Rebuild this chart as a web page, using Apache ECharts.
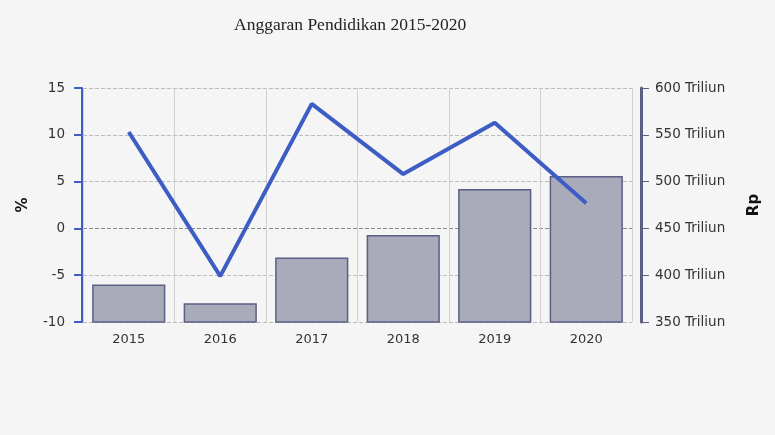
<!DOCTYPE html>
<html>
<head>
<meta charset="utf-8">
<title>Anggaran Pendidikan 2015-2020</title>
<script src="https://cdn.jsdelivr.net/npm/echarts@6/dist/echarts.min.js"></script>
<style>
  html, body { margin: 0; padding: 0; background: #f5f5f5; }
  #chart { width: 775px; height: 435px; }
</style>
</head>
<body>
<div id="chart"></div>
<script>
// data
const years = ['2015', '2016', '2017', '2018', '2019', '2020'];
const anggaran = [390, 370, 419, 443, 492, 506];   // Rp Triliun
const pertumbuhan = [10.3, -5.1, 13.3, 5.8, 11.3, 2.7]; // %

const chart = echarts.init(document.getElementById('chart'));

const axisLabel = { color: '#333', fontSize: 13, fontFamily: 'DejaVu Sans' };

chart.setOption({
    backgroundColor: '#f5f5f5',
    title: {
        text: 'Anggaran Pendidikan 2015-2020',
        left: 229,
        top: 11,
        textStyle: { fontFamily: 'Liberation Serif', fontWeight: 'normal', fontSize: 17.5, color: '#222' }
    },
    grid: { left: 83, right: 143, top: 88, bottom: 113 },
    xAxis: {
        type: 'category',
        data: years,
        axisLine: { show: false },
        axisTick: { show: false },
        axisLabel: { ...axisLabel, margin: 11 },
        splitLine: { show: true, lineStyle: { color: '#d0d0d0', width: 1 } }
    },
    yAxis: [
        {
            type: 'value',
            name: '%',
            nameLocation: 'middle',
            nameGap: 51,
            nameTextStyle: { fontWeight: 'bold', fontSize: 15, color: '#111', fontFamily: 'DejaVu Sans' },
            min: -10,
            max: 15,
            interval: 5,
            offset: 1,
            axisLine: { show: true, lineStyle: { color: '#3d5cc4', width: 2 } },
            axisTick: { show: true, length: 8, lineStyle: { color: '#3d5cc4', width: 2 } },
            axisLabel: { ...axisLabel, fontSize: 13.5, margin: 17 },
            splitLine: {
                lineStyle: {
                    type: 'dashed',
                    color: ['#bbb', '#bbb', '#888', '#bbb', '#bbb', '#bbb']
                }
            }
        },
        {
            type: 'value',
            name: 'Rp',
            nameLocation: 'middle',
            nameGap: 106,
            nameTextStyle: { fontWeight: 'bold', fontSize: 15, color: '#111', fontFamily: 'DejaVu Sans' },
            min: 350,
            max: 600,
            interval: 50,
            offset: 9,
            axisLine: { show: true, lineStyle: { color: '#5b5f85', width: 3 } },
            axisTick: { show: true, length: 8, lineStyle: { color: '#5b5f85', width: 1 } },
            axisLabel: { ...axisLabel, fontSize: 13.5, margin: 14, formatter: '{value} Triliun' },
            splitLine: { show: false }
        }
    ],
    series: [
        {
            name: 'Anggaran',
            type: 'bar',
            yAxisIndex: 1,
            data: anggaran,
            barCategoryGap: '20%',
            itemStyle: { color: '#a9abba', borderColor: '#5b5f85', borderWidth: 1.5 },
            z: 2
        },
        {
            name: 'Pertumbuhan',
            type: 'line',
            yAxisIndex: 0,
            data: pertumbuhan,
            symbol: 'none',
            lineStyle: { color: '#3d5cc4', width: 4 },
            z: 3
        }
    ]
});
</script>
</body>
</html>
